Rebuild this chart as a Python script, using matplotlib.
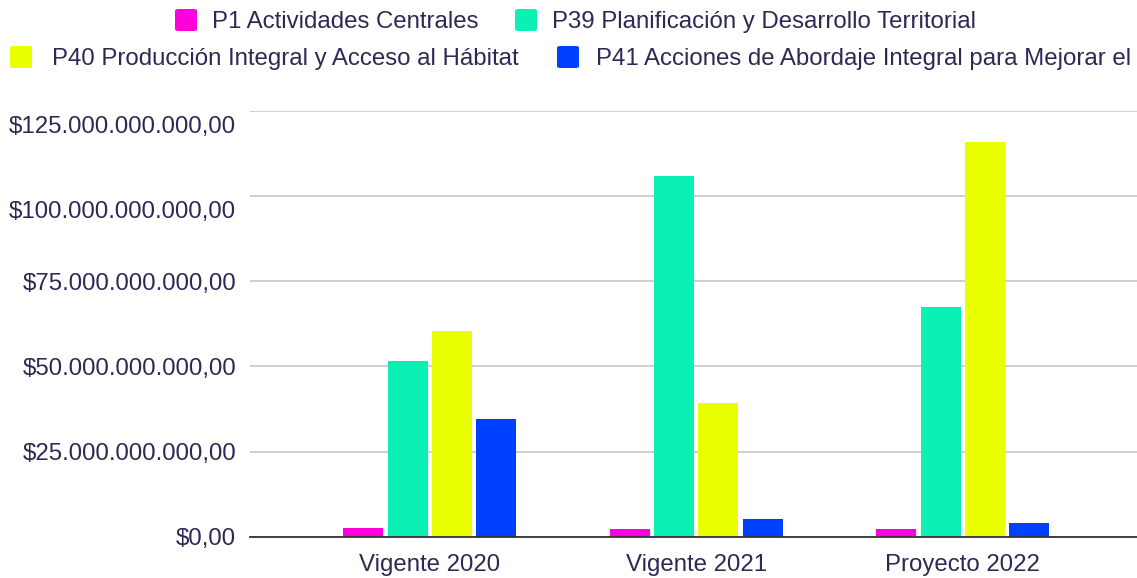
import matplotlib.pyplot as plt
import matplotlib.ticker as mticker
from matplotlib.patches import FancyBboxPatch
from matplotlib.transforms import ScaledTranslation
import numpy as np

categories = ['Vigente 2020', 'Vigente 2021', 'Proyecto 2022']
series_names = ['P1 Actividades Centrales',
                'P39 Planificación y Desarrollo Territorial',
                'P40 Producción Integral y Acceso al Hábitat',
                'P41 Acciones de Abordaje Integral para Mejorar el']
p1 = [2.6e9, 2.2e9, 2.2e9]
p39 = [51.5e9, 105.8e9, 67.4e9]
p40 = [60.4e9, 39.1e9, 115.8e9]
p41 = [34.5e9, 5.1e9, 3.9e9]
colors = ['#ff00dd', '#0bf0b5', '#eaff00', '#0041ff']
txt = '#2b2a55'

plt.rcParams['font.family'] = ['Liberation Sans', 'DejaVu Sans']

fig = plt.figure(figsize=(11.37, 5.78), dpi=100)
ax = fig.add_axes([250 / 1137, 1 - 536.7 / 578, 887 / 1137, (536.7 - 110.7) / 578])

x = np.arange(len(categories))
step = 0.166
width = 0.150
for i, vals in enumerate([p1, p39, p40, p41]):
    ax.bar(x + (i - 1.5) * step, vals, width, color=colors[i], zorder=3)

ax.set_xlim(-0.674, 2.654)
ax.set_ylim(0, 125e9)
ax.set_yticks(np.arange(0, 126e9, 25e9))

def fmt(v, pos):
    s = f'{v:,.2f}'.replace(',', 'X').replace('.', ',').replace('X', '.')
    return '$' + s

ax.yaxis.set_major_formatter(mticker.FuncFormatter(fmt))
ax.set_xticks(x)
ax.set_xticklabels(categories)
ax.tick_params(axis='both', length=0, labelsize=17.3, colors=txt)
ax.tick_params(axis='y', pad=10)
ax.tick_params(axis='x', pad=12.5)
ax.grid(axis='y', color='#cccccc', linewidth=1.3, zorder=0)
for s in ['top', 'right', 'left']:
    ax.spines[s].set_visible(False)
ax.spines['bottom'].set_color('#333333')
ax.spines['bottom'].set_linewidth(1.3)
ax.spines['bottom'].set_zorder(4)

# the two top labels sit a bit below their gridlines in the original
shift = ScaledTranslation(0, -14 / 100, fig.dpi_scale_trans)
for tick in ax.yaxis.get_major_ticks()[-2:]:
    tick.label1.set_transform(tick.label1.get_transform() + shift)

# legend, two rows: marker x, text x, row y (pixels)
legend_pos = [(175, 212, 20), (515, 552, 20), (10, 52, 57), (557, 596, 57)]
for (mx, tx, py), name, c in zip(legend_pos, series_names, colors):
    box = FancyBboxPatch((mx / 1137, 1 - (py + 11) / 578), 22 / 1137, 22 / 578,
                         boxstyle='round,pad=0,rounding_size=0.003',
                         transform=fig.transFigure, facecolor=c, edgecolor='none')
    fig.patches.append(box)
    fig.text(tx / 1137, 1 - (py + 2) / 578, name, fontsize=17.3, color=txt,
             va='center', ha='left')

fig.savefig('out.png', dpi=100)
